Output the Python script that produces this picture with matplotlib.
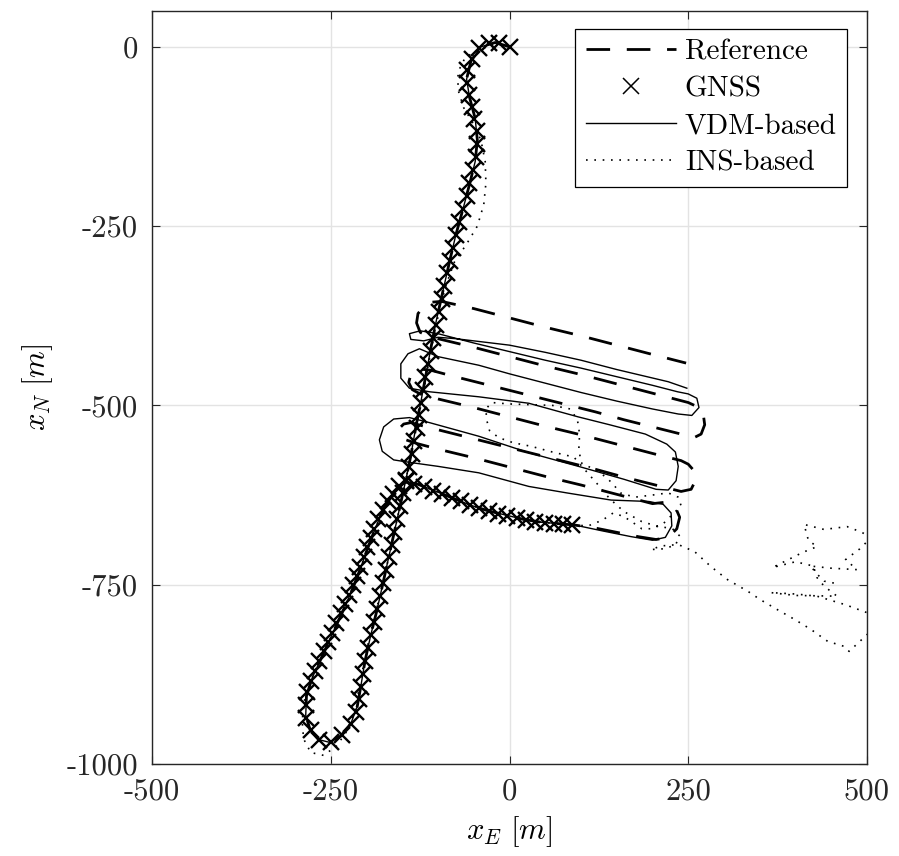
import numpy as np
import matplotlib
matplotlib.use("Agg")
import matplotlib.pyplot as plt

plt.rcParams['font.family'] = ['cmr10', 'DejaVu Serif']
plt.rcParams['mathtext.fontset'] = 'cm'
plt.rcParams['axes.unicode_minus'] = False
plt.rcParams['axes.formatter.use_mathtext'] = False

# GNSS fixes (east, north) in m
gnss_pts = [(0, 0), (-14, 5), (-28, 6), (-42, -2), (-52, -17), (-59, -33), (-60, -50), (-57, -67),
            (-53, -84), (-49, -101), (-46, -118), (-45, -136), (-47, -154), (-51, -172), (-56, -190),
            (-60, -208), (-65, -226), (-70, -244), (-75, -262), (-79, -280), (-83, -298), (-87, -316),
            (-91, -334), (-95, -352), (-99, -370), (-103, -388), (-107, -406), (-110, -424), (-114, -442),
            (-118, -460), (-121, -478), (-124, -496), (-127, -514), (-130, -532), (-134, -550),
            (-137, -568), (-141, -586), (-145, -604), (-149, -622), (-153, -640), (-157, -658),
            (-161, -676), (-165, -694), (-169, -712), (-173, -730), (-177, -748), (-181, -766),
            (-185, -784), (-190, -802), (-194, -820), (-198, -838), (-202, -856), (-205, -874),
            (-208, -892), (-211, -910), (-215, -928), (-222, -944), (-234, -959), (-250, -970),
            (-266, -966), (-278, -953), (-284, -936), (-285, -918), (-283, -900), (-278, -884),
            (-272, -870), (-266, -857), (-260, -843), (-254, -830), (-248, -817), (-242, -803),
            (-236, -790), (-230, -777), (-225, -764), (-219, -751), (-214, -738), (-209, -725),
            (-204, -712), (-199, -698), (-194, -685), (-189, -672), (-184, -659), (-177, -646),
            (-170, -634), (-163, -623), (-154, -613), (-145, -606), (-133, -609), (-120, -614),
            (-107, -619), (-94, -624), (-81, -629), (-68, -634), (-55, -639), (-42, -643), (-29, -647),
            (-16, -651), (-3, -654), (10, -657), (23, -660), (36, -662), (49, -664), (62, -665),
            (75, -666), (88, -667)]

# reference trajectory
ref_pts = [(0, 0), (-20, 6), (-40, 0), (-54, -20), (-60, -45), (-56, -70), (-48, -100), (-45, -130),
           (-48, -160), (-56, -192), (-65, -226), (-75, -262), (-84, -300), (-93, -340), (-102, -380),
           (-110, -420), (-117, -458), (-124, -495), (-131, -530), (-138, -570), (-145, -604),
           (-153, -640), (-161, -676), (-169, -712), (-177, -748), (-185, -784), (-194, -820),
           (-202, -856), (-208, -892), (-213, -920), (-222, -944), (-236, -961), (-251, -970),
           (-267, -966), (-279, -952), (-285, -932), (-284, -905), (-276, -880), (-265, -856),
           (-253, -830), (-241, -804), (-229, -778), (-218, -752), (-208, -726), (-198, -698),
           (-188, -672), (-177, -646), (-163, -623), (-146, -607), (-128, -610), (-105, -619),
           (-80, -629), (-55, -639), (-30, -647), (-5, -653), (20, -659), (45, -663), (70, -665),
           (92, -667), (120, -671), (150, -677), (180, -683), (205, -687), (222, -684), (234, -672),
           (238, -656), (232, -642), (218, -635), (200, -637), (150, -624), (100, -611), (50, -599),
           (0, -586), (-50, -573), (-100, -561), (-130, -553), (-145, -548), (-153, -540),
           (-154, -532), (-148, -526), (-138, -524), (-120, -529), (-80, -539), (-40, -549),
           (0, -559), (40, -569), (80, -579), (120, -589), (160, -600), (200, -610), (240, -620),
           (254, -617), (260, -605), (258, -591), (250, -582), (240, -577), (200, -567), (150, -554),
           (100, -541), (50, -529), (0, -516), (-50, -503), (-100, -491), (-125, -484), (-136, -478),
           (-141, -468), (-138, -457), (-128, -449), (-110, -451), (-80, -459), (-40, -469),
           (0, -479), (40, -489), (80, -499), (120, -509), (160, -520), (200, -530), (240, -540),
           (258, -545), (268, -540), (273, -527), (271, -512), (263, -502), (250, -496), (200, -483),
           (150, -470), (100, -457), (50, -445), (0, -432), (-50, -419), (-100, -407), (-115, -403),
           (-125, -398), (-130, -385), (-128, -372), (-120, -362), (-108, -356), (-95, -355),
           (-50, -365), (0, -378), (50, -391), (100, -403), (150, -416), (200, -429), (247, -441)]

# VDM-based estimate
vdm_pts = [(0, 0), (-20, 6), (-40, 0), (-54, -20), (-60, -45), (-56, -70), (-48, -100), (-45, -130),
           (-48, -160), (-56, -192), (-65, -226), (-75, -262), (-84, -300), (-93, -340), (-102, -380),
           (-110, -420), (-117, -458), (-124, -495), (-131, -530), (-138, -570), (-145, -604),
           (-153, -640), (-161, -676), (-169, -712), (-177, -748), (-185, -784), (-194, -820),
           (-202, -856), (-208, -892), (-213, -920), (-222, -944), (-236, -961), (-251, -970),
           (-267, -966), (-279, -952), (-285, -932), (-284, -905), (-276, -880), (-265, -856),
           (-253, -830), (-241, -804), (-229, -778), (-218, -752), (-208, -726), (-198, -698),
           (-188, -672), (-177, -646), (-163, -623), (-146, -607), (-128, -610), (-105, -619),
           (-80, -629), (-55, -639), (-30, -647), (-5, -653), (20, -659), (45, -663), (70, -665),
           (92, -667), (130, -675), (170, -683), (200, -688), (218, -684), (227, -668), (226, -650),
           (215, -638), (195, -634), (142, -632), (80, -622), (27, -613), (-43, -594), (-100, -585),
           (-136, -580), (-162, -576), (-178, -564), (-182, -548), (-176, -530), (-162, -519),
           (-140, -517), (-112, -524), (-43, -543), (27, -566), (100, -586), (160, -603), (205, -617),
           (222, -618), (233, -605), (236, -585), (232, -565), (220, -554), (190, -540), (140, -527),
           (96, -516), (27, -497), (-43, -488), (-112, -481), (-140, -476), (-152, -462),
           (-152, -442), (-142, -428), (-126, -421), (-100, -432), (-43, -444), (0, -456), (50, -469),
           (100, -482), (150, -494), (200, -505), (236, -512), (255, -514), (265, -503), (262, -490),
           (250, -484), (235, -481), (200, -472), (150, -460), (100, -448), (50, -437), (0, -425),
           (-50, -413), (-100, -400), (-125, -396), (-140, -400), (-138, -408), (-120, -410),
           (-100, -405), (-75, -407), (0, -416), (50, -426), (100, -437), (150, -450), (222, -467),
           (248, -476)]

# INS-based estimate
ins_pts = [(0, 0), (-20, 4), (-45, -5), (-62, -15), (-72, -35), (-72, -60), (-64, -85), (-52, -105),
           (-40, -130), (-34, -160), (-33, -190), (-36, -220), (-45, -250), (-60, -275), (-77, -300),
           (-88, -330), (-97, -362), (-105, -400), (-113, -440), (-120, -480), (-128, -520),
           (-136, -560), (-145, -604), (-153, -640), (-161, -676), (-169, -712), (-177, -748),
           (-186, -784), (-195, -820), (-203, -856), (-210, -892), (-216, -925), (-228, -955),
           (-242, -975), (-260, -988), (-278, -984), (-288, -965), (-290, -940), (-287, -912),
           (-278, -884), (-266, -856), (-253, -830), (-241, -804), (-229, -778), (-218, -752),
           (-208, -726), (-198, -698), (-188, -672), (-177, -646), (-163, -623), (-146, -607),
           (-128, -610), (-105, -619), (-80, -629), (-55, -639), (-30, -647), (-5, -653), (20, -659),
           (45, -663), (70, -665), (92, -667), (110, -668), (130, -660), (145, -650), (160, -655),
           (175, -665), (185, -672), (200, -672), (215, -665), (230, -650), (240, -640), (236, -628),
           (222, -622), (200, -625), (175, -628), (155, -622), (145, -610), (135, -600), (120, -590),
           (100, -580), (97, -560), (98, -540), (95, -520), (85, -505), (60, -500), (30, -499),
           (0, -498), (-25, -496), (-33, -505), (-32, -520), (-28, -535), (-15, -545), (5, -552),
           (30, -557), (60, -565), (90, -572), (110, -595), (125, -612), (140, -630), (160, -648),
           (185, -662), (205, -668), (228, -672), (238, -682), (232, -695), (215, -700), (198, -701),
           (212, -696), (236, -694), (259, -704), (282, -725), (305, -743), (333, -759), (351, -771),
           (375, -785), (398, -798), (421, -812), (445, -829), (468, -836), (475, -843), (489, -830),
           (505, -815), (500, -789), (470, -778), (430, -766), (400, -763), (365, -761), (400, -765),
           (458, -766), (440, -752), (430, -740), (425, -724), (400, -718), (368, -726), (390, -715),
           (410, -705), (430, -697), (418, -688), (412, -666), (440, -673), (472, -669), (493, -677),
           (505, -685), (490, -700), (470, -715), (486, -729), (450, -727), (421, -724), (430, -735),
           (440, -745), (455, -748)]

x_ticks = [-500, -250, 0, 250, 500]
y_ticks = [-1000, -750, -500, -250, 0]

ref_e, ref_n = zip(*ref_pts)
gnss_e, gnss_n = zip(*gnss_pts)
vdm_e, vdm_n = zip(*vdm_pts)
ins_e, ins_n = zip(*ins_pts)

fig = plt.figure(figsize=(8.99, 8.56), dpi=100)
ax = fig.add_axes([0.1691, 0.1075, 0.7953, 0.8797])

ax.plot(ref_e, ref_n, color='k', lw=2.0, linestyle=(0, (8.5, 6)), label='Reference')
ax.plot(gnss_e, gnss_n, linestyle='none', marker='x', color='k', ms=11.5, mew=1.7, label='GNSS')
ax.plot(vdm_e, vdm_n, color='k', lw=1.0, label='VDM-based')
ax.plot(ins_e, ins_n, color='k', lw=1.2, linestyle=(0, (1, 4)), label='INS-based')

ax.set_xlim(-500, 500)
ax.set_ylim(-1000, 50)
ax.set_xticks(x_ticks)
ax.set_yticks(y_ticks)
ax.grid(True, color='#e3e3e3', lw=1.0)
ax.set_axisbelow(True)
ax.tick_params(direction='in', length=6, width=0.8, top=True, right=True,
               labelsize=22, colors='#262626', pad=10)
for s in ax.spines.values():
    s.set_color('#262626')
    s.set_linewidth(1.0)

ax.set_xlabel(r'$x_E\ [m]$', fontsize=22, labelpad=6)
ax.set_ylabel(r'$x_N\ [m]$', fontsize=22, labelpad=8)

leg = ax.legend(loc='upper right', bbox_to_anchor=(0.972, 0.976), borderaxespad=0,
                fontsize=21, fancybox=False, framealpha=1, edgecolor='k',
                handlelength=3.1, handletextpad=0.3, labelspacing=0.36, borderpad=0.35)
leg.get_frame().set_linewidth(0.9)
# legend cross drawn thinner than the plotted fixes
leg.legend_handles[1].set_markeredgewidth(1.1)

fig.savefig('out.png', dpi=100)
